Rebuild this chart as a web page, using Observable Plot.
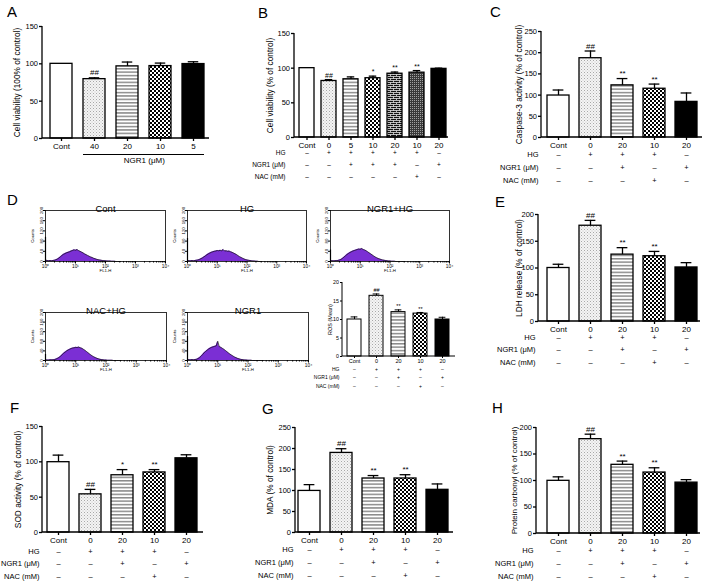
<!DOCTYPE html>
<html><head><meta charset="utf-8">
<script src="https://cdn.jsdelivr.net/npm/d3@7"></script>
<script src="https://cdn.jsdelivr.net/npm/@observablehq/plot@0.6"></script>
<style>
body{margin:0;background:#fff;}
#fig{position:relative;width:705px;height:585px;overflow:hidden;background:#fff;font-family:"Liberation Sans",Arial,Helvetica,sans-serif;}
.panel{position:absolute;}
.letter{position:absolute;font-size:15px;line-height:15px;color:#000;}
</style></head><body>
<svg width="0" height="0" style="position:absolute;left:0;top:0">
<defs>
<pattern id="pDots" width="3" height="3" patternUnits="userSpaceOnUse">
<rect width="3" height="3" fill="#f4f4f4"/>
<rect x="0" y="0" width="1" height="1" fill="#a8a8a8"/>
<rect x="1.5" y="1.5" width="1" height="1" fill="#c4c4c4"/>
</pattern>
<pattern id="pStripe" width="4" height="3.4" patternUnits="userSpaceOnUse">
<rect width="4" height="3.4" fill="#ffffff"/>
<rect y="0" width="4" height="1.5" fill="#8a8a8a"/>
</pattern>
<pattern id="pCheck" width="4" height="4" patternUnits="userSpaceOnUse">
<rect width="4" height="4" fill="#ffffff"/>
<rect width="2" height="2" fill="#000"/>
<rect x="2" y="2" width="2" height="2" fill="#000"/>
</pattern>
<pattern id="pBrick" width="6" height="4" patternUnits="userSpaceOnUse">
<rect width="6" height="4" fill="#111"/>
<path d="M0,0.5H6M0,2.5H6M1.5,0.5V2.5M4.5,2.5V4.5" stroke="#fff" stroke-width="0.7" fill="none"/>
</pattern>
<pattern id="pDark" width="2" height="2" patternUnits="userSpaceOnUse">
<rect width="2" height="2" fill="#3a3a3a"/>
<rect x="0" y="0" width="0.9" height="0.9" fill="#bbbbbb"/>
</pattern>
</defs></svg>
<div id="fig"></div>
<script>
// ---------- DATA ----------
const catsA = ["Cont", "40", "20", "10", "5"];
const valsA = [100, 79.5, 96.6, 97, 99.7];
const errA = [0, 1.8, 5.8, 4, 3.1];
const sigA = ["", "##", "", "", ""];

const catsB = ["Cont", "0", "5", "10", "20", "10", "20"];
const valsB = [100, 81.5, 84, 85.5, 92, 93.5, 99];
const errB = [0, 2, 3.4, 3, 2.4, 3, 1];
const sigB = ["", "##", "", "*", "**", "**", ""];
const hgB = ["–", "+", "+", "+", "+", "+", "–"];
const ngrB = ["–", "–", "+", "+", "+", "–", "+"];
const nacB = ["–", "–", "–", "–", "–", "+", "–"];

const cats5 = ["Cont", "0", "20", "10", "20"];
const hg5 = ["–", "+", "+", "+", "–"];
const ngr5 = ["–", "–", "+", "–", "+"];
const nac5 = ["–", "–", "–", "+", "–"];
const rowNames = ["HG", "NGR1 (μM)", "NAC (mM)"];

const valsC = [99, 187, 123, 115, 84];
const errC = [13, 17, 16, 11, 21];
const sigC = ["", "##", "**", "**", ""];

const valsROS = [10.0, 16.4, 12.0, 11.6, 10.0];
const errROS = [0.7, 0.5, 0.6, 0.3, 0.6];
const sigROS = ["", "##", "**", "**", ""];

const valsE = [100, 179, 125, 122, 101];
const errE = [7, 10, 13, 9, 9];
const sigE = ["", "##", "**", "**", ""];

const valsF = [99.5, 54, 81, 85, 105];
const errF = [10, 7, 8, 4, 5];
const sigF = ["", "##", "*", "**", ""];

const valsG = [99, 189.5, 128.6, 128.6, 101.6];
const errG = [15, 10, 7, 9, 14];
const sigG = ["", "##", "**", "**", ""];

const valsH = [99.4, 178, 129.6, 115, 96];
const errH = [7.5, 9.4, 7, 9, 5.6];
const sigH = ["", "##", "**", "**", ""];

// flow cytometry histograms: counts at log10(FL1-H) = 0, 0.05, ..., 2.5
const histTitles = ["Cont", "HG", "NGR1+HG", "NAC+HG", "NGR1"];
const histCont = [6,4,3,4,3,4,5,7,10,14,19,24,28,31,34,36,38,41,43,46,44,47,43,40,37,34,30,27,24,21,18,16,13,11,9,7,6,5,4,3,3,2,2,2,1,1,1,0,0,0,0];
const histHG = [5,3,3,4,3,4,5,6,8,11,14,18,22,26,30,33,36,38,40,41,43,42,44,42,47,41,42,40,41,38,36,33,30,27,23,19,16,13,10,8,6,5,4,3,2,2,1,1,0,0,0];
const histNgrHG = [4,3,3,3,4,4,6,8,12,17,22,27,31,35,38,41,43,45,47,49,48,51,47,45,42,38,34,30,26,22,18,15,12,10,8,6,5,4,3,2,2,1,1,1,0,0,0,0,0,0,0];
const histNacHG = [3,2,2,3,3,3,4,6,9,13,18,24,30,35,40,44,47,50,52,53,55,54,56,53,51,47,43,38,33,28,23,19,15,12,9,7,5,4,3,2,2,1,1,1,1,0,0,0,0,0,0];
const histNgr = [6,3,3,4,3,4,5,8,12,18,25,32,38,43,48,52,55,57,59,61,80,58,55,51,47,42,37,32,27,23,19,15,12,9,7,5,4,3,2,2,1,1,1,0,0,0,0,0,0,0,0];
const histSpike = [95, 90, 45, 25, 100];
const histStep = 0.05;
const countTicks = [0, 40, 80, 120, 160, 200];
const decadeTicks = [1, 10, 100, 1000, 10000];

// ---------- STYLE ----------
const FONT = '"Liberation Sans", Arial, Helvetica, sans-serif';
const fills5 = ["#ffffff", "url(#pDots)", "url(#pStripe)", "url(#pCheck)", "#000000"];
const fills7 = ["#ffffff", "url(#pDots)", "url(#pStripe)", "url(#pCheck)", "url(#pBrick)", "url(#pDark)", "#000000"];
const PURPLE = "#7b2fd4";
const fig = document.getElementById("fig");

function place(svg, left, top, w) {
  const d = document.createElement("div");
  d.className = "panel";
  d.style.left = left + "px";
  d.style.top = top + "px";
  d.style.width = w + "px";
  d.appendChild(svg);
  fig.appendChild(d);
}
function letter(t, x, baseline) {
  const d = document.createElement("div");
  d.className = "letter";
  d.textContent = t;
  d.style.left = x + "px";
  d.style.top = (baseline - 13) + "px";
  fig.appendChild(d);
}
const axisLines = (sw) => (index, scales, values, dims) => {
  const {width, height, marginLeft, marginRight, marginTop, marginBottom} = dims;
  const g = d3.create("svg:g").attr("stroke", "#000").attr("stroke-width", sw).attr("fill", "none");
  g.append("line").attr("x1", marginLeft).attr("x2", marginLeft).attr("y1", marginTop).attr("y2", height - marginBottom);
  g.append("line").attr("x1", marginLeft).attr("x2", width - marginRight).attr("y1", height - marginBottom).attr("y2", height - marginBottom);
  return g.node();
};

function barPanel(c) {
  const n = c.cats.length;
  const L = c.fr - c.fl;
  const step = (c.lastR - c.firstL - c.bw) / (n - 1);
  const pi = 1 - c.bw / step;
  const extra = L - step * (n - pi);
  const po = Math.max(0, extra / (2 * step));
  const align = extra > 0 ? Math.min(1, Math.max(0, (c.firstL - c.fl) / extra)) : 0.5;
  const fs = c.fs, sw = c.sw;
  const data = c.cats.map((cat, i) => ({
    i, cat, v: c.vals[i], e: c.errs[i], s: c.sigs[i], f: c.fills[i],
    r0: c.rows ? c.rows[0][i] : "", r1: c.rows ? c.rows[1][i] : "", r2: c.rows ? c.rows[2][i] : ""
  }));
  const withErr = data.filter(d => d.e > 0);
  const marks = [
    Plot.barY(data, {x: "i", y: "v", fill: "f", stroke: "#000", strokeWidth: sw}),
    Plot.ruleX(withErr, {x: "i", y1: "v", y2: d => d.v + d.e, stroke: "#000", strokeWidth: sw}),
    Plot.tickY(withErr, {x: "i", y: d => d.v + d.e, insetLeft: c.bw * 0.25, insetRight: c.bw * 0.25, stroke: "#000", strokeWidth: sw}),
    Plot.text(data, {x: "i", y: d => d.v + d.e, text: "s", dy: -c.sigGap, fontSize: c.sigFs, fill: "#000"}),
    Plot.axisY({ticks: c.ticks, tickSize: c.tickSize, tickPadding: 1.5, fontSize: c.yfs, label: null, strokeWidth: sw}),
    Plot.axisX({tickSize: c.tickSize, tickPadding: c.xPad, tickFormat: i => c.cats[i], fontSize: fs, label: null, strokeWidth: sw}),
    axisLines(sw),
    Plot.text([c.ylabel], {frameAnchor: "left", dx: -c.ylGap, rotate: -90, textAnchor: "middle", fontSize: c.ylfs, fill: "#000"})
  ];
  if (c.rows) {
    ["r0", "r1", "r2"].forEach((k, j) => {
      marks.push(Plot.text(data, {x: "i", text: k, frameAnchor: "bottom", dy: c.rowDy[j], fontSize: c.rowFs, fill: "#000"}));
      marks.push(Plot.text([rowNames[j]], {frameAnchor: "bottom-left", dx: -c.rlGap, dy: c.rowDy[j], textAnchor: "end", fontSize: c.rowFs, fill: "#000"}));
    });
  }
  if (c.extra) marks.push(...c.extra(step));
  const svg = Plot.plot({
    width: c.w, height: c.h,
    marginLeft: c.fl - c.left, marginRight: c.left + c.w - c.fr,
    marginTop: c.ft - c.top, marginBottom: c.top + c.h - c.fb,
    x: {domain: d3.range(n), paddingInner: pi, paddingOuter: po, align},
    y: {domain: c.domain},
    color: {type: "identity"},
    style: {fontFamily: FONT, fontSize: c.yfs + "px", background: "transparent", overflow: "visible", color: "#000"},
    marks
  });
  place(svg, c.left, c.top, c.w);
}

function histPanel(counts, spike, title, fl, fr, ft, fb) {
  const ml = 22, mr = 9, mt = 16, mb = 16;
  const pts = counts.map((v, i) => ({x: Math.pow(10, i * histStep), v}));
  const minor = [];
  for (let d = 1; d < 10000; d *= 10) for (let k = 2; k < 10; k++) minor.push(d * k);
  const sup = ["⁰", "¹", "²", "³", "⁴"];
  const svg = Plot.plot({
    width: fr - fl + ml + mr, height: fb - ft + mt + mb,
    marginLeft: ml, marginRight: mr, marginTop: mt, marginBottom: mb,
    x: {type: "log", domain: [1, 10000]},
    y: {domain: [0, 200]},
    style: {fontFamily: FONT, fontSize: "5px", background: "transparent", overflow: "visible", color: "#000"},
    marks: [
      Plot.areaY(pts, {x: "x", y: "v", fill: PURPLE}),
      Plot.lineY(pts, {x: "x", y: "v", stroke: "#111", strokeWidth: 0.7}),
      Plot.ruleX([spike], {x: () => 1, y1: 0, y2: d => d, stroke: "#000", strokeWidth: 1.2}),
      Plot.frame({stroke: "#000", strokeWidth: 0.8}),
      Plot.axisX({ticks: decadeTicks, tickSize: 2.5, tickPadding: 0.5, fontSize: 4.8, tickFormat: t => "10" + sup[Math.round(Math.log10(t))], label: null}),
      Plot.axisX({ticks: minor, tickSize: 1.5, tickFormat: () => "", label: null}),
      Plot.axisY({ticks: countTicks, tickSize: 2, tickPadding: 0.5, tickRotate: -90, fontSize: 4.3, label: null}),
      Plot.text(["Counts"], {frameAnchor: "left", dx: -13, rotate: -90, textAnchor: "middle", fontSize: 4.3, fill: "#000"}),
      Plot.text(["FL1-H"], {frameAnchor: "bottom", dy: 10.5, fontSize: 4.3, fill: "#000"}),
      Plot.text([title], {frameAnchor: "top", dy: -5.5, fontSize: 9.5, fill: "#000"})
    ]
  });
  place(svg, fl - ml, ft - mt, fr - fl + ml + mr);
}

const std = {fs: 8, yfs: 7.5, ylfs: 8.3, rowFs: 7.5, sigFs: 8, sigGap: 5, sw: 1.3, tickSize: 3, xPad: 1.5};

// A
barPanel({...std, left: 0, top: 0, w: 232, h: 190, fl: 42, fr: 209, ft: 26, fb: 138, firstL: 48, lastR: 206, bw: 23,
  cats: catsA, vals: valsA, errs: errA, sigs: sigA, fills: fills5, domain: [0, 150], ticks: [0, 50, 100, 150],
  ylabel: "Cell viability (100% of control)", ylGap: 25,
  extra: (step) => [
    Plot.ruleY([0], {x1: () => 1, x2: () => 4, dy: 16, stroke: "#000", strokeWidth: 1}),
    Plot.text(["NGR1 (μM)"], {x: () => 2, dx: step / 2, frameAnchor: "bottom", dy: 24.5, fontSize: 8, fill: "#000"})
  ]});
// B
barPanel({...std, rowFs: 6.5, left: 230, top: 0, w: 240, h: 190, fl: 294, fr: 448, ft: 33, fb: 137, firstL: 298, lastR: 446, bw: 15,
  cats: catsB, vals: valsB, errs: errB, sigs: sigB, fills: fills7, domain: [0, 150], ticks: [0, 50, 100, 150],
  ylabel: "Cell viability (% of control)", ylGap: 24, rows: [hgB, ngrB, nacB], rowDy: [17, 29, 41], rlGap: 9, sigFs: 7, sigGap: 4});
// C
barPanel({...std, left: 470, top: 0, w: 235, h: 190, fl: 541, fr: 702, ft: 31, fb: 137, firstL: 546, lastR: 698, bw: 22.5,
  cats: cats5, vals: valsC, errs: errC, sigs: sigC, fills: fills5, domain: [0, 250], ticks: [0, 50, 100, 150, 200, 250],
  ylabel: "Caspase-3 activity (% of control)", ylGap: 22, rows: [hg5, ngr5, nac5], rowDy: [19, 32, 45], rlGap: 3});
// D inset (ROS)
barPanel({...std, fs: 5.5, yfs: 5.3, ylfs: 5.5, rowFs: 5, sigFs: 5.5, sigGap: 3.5, sw: 1, tickSize: 2, xPad: 1,
  left: 318, top: 275, w: 152, h: 120, fl: 342, fr: 455, ft: 282, fb: 356, firstL: 347, lastR: 450, bw: 14.5,
  cats: cats5, vals: valsROS, errs: errROS, sigs: sigROS, fills: fills5, domain: [0, 20], ticks: [0, 5, 10, 15, 20],
  ylabel: "ROS (Mean)", ylGap: 12, rows: [hg5, ngr5, nac5], rowDy: [14, 22, 31], rlGap: 3});
// E
barPanel({...std, left: 470, top: 190, w: 235, h: 190, fl: 538, fr: 700, ft: 214, fb: 321, firstL: 546, lastR: 698, bw: 22.5,
  cats: cats5, vals: valsE, errs: errE, sigs: sigE, fills: fills5, domain: [0, 200], ticks: [0, 50, 100, 150, 200],
  ylabel: "LDH release (% of control)", ylGap: 19, rows: [hg5, ngr5, nac5], rowDy: [18, 30, 43], rlGap: 3});
// F
barPanel({...std, left: 0, top: 395, w: 230, h: 190, fl: 42, fr: 203, ft: 426, fb: 532, firstL: 47, lastR: 198, bw: 22.5,
  cats: cats5, vals: valsF, errs: errF, sigs: sigF, fills: fills5, domain: [0, 150], ticks: [0, 50, 100, 150],
  ylabel: "SOD activity (% of control)", ylGap: 24, rows: [hg5, ngr5, nac5], rowDy: [21, 33, 46], rlGap: 3});
// G
barPanel({...std, left: 230, top: 395, w: 240, h: 190, fl: 295, fr: 453, ft: 427, fb: 532, firstL: 298, lastR: 449, bw: 22.5,
  cats: cats5, vals: valsG, errs: errG, sigs: sigG, fills: fills5, domain: [0, 250], ticks: [0, 50, 100, 150, 200, 250],
  ylabel: "MDA (% of control)", ylGap: 25, rows: [hg5, ngr5, nac5], rowDy: [19, 32, 45], rlGap: 2});
// H
barPanel({...std, left: 470, top: 395, w: 235, h: 190, fl: 536, fr: 700, ft: 427, fb: 533, firstL: 546, lastR: 698, bw: 22.5,
  cats: cats5, vals: valsH, errs: errH, sigs: sigH, fills: fills5, domain: [0, 200], ticks: [0, 50, 100, 150, 200],
  ylabel: "Protein carbonyl (% of control)", ylGap: 22, ylfs: 8, rows: [hg5, ngr5, nac5], rowDy: [19, 32, 45], rlGap: 3});

// D histograms
histPanel(histCont, histSpike[0], histTitles[0], 45, 165, 210, 261);
histPanel(histHG, histSpike[1], histTitles[1], 187, 306, 210, 261);
histPanel(histNgrHG, histSpike[2], histTitles[2], 330, 449, 210, 261);
histPanel(histNacHG, histSpike[3], histTitles[3], 45, 166, 312, 360);
histPanel(histNgr, histSpike[4], histTitles[4], 187, 308, 312, 360);

// panel letters
letter("A", 7, 17); letter("B", 258, 18); letter("C", 490, 17); letter("D", 7, 205);
letter("E", 495, 207); letter("F", 10, 413); letter("G", 262, 414); letter("H", 492, 413);
</script></body></html>
